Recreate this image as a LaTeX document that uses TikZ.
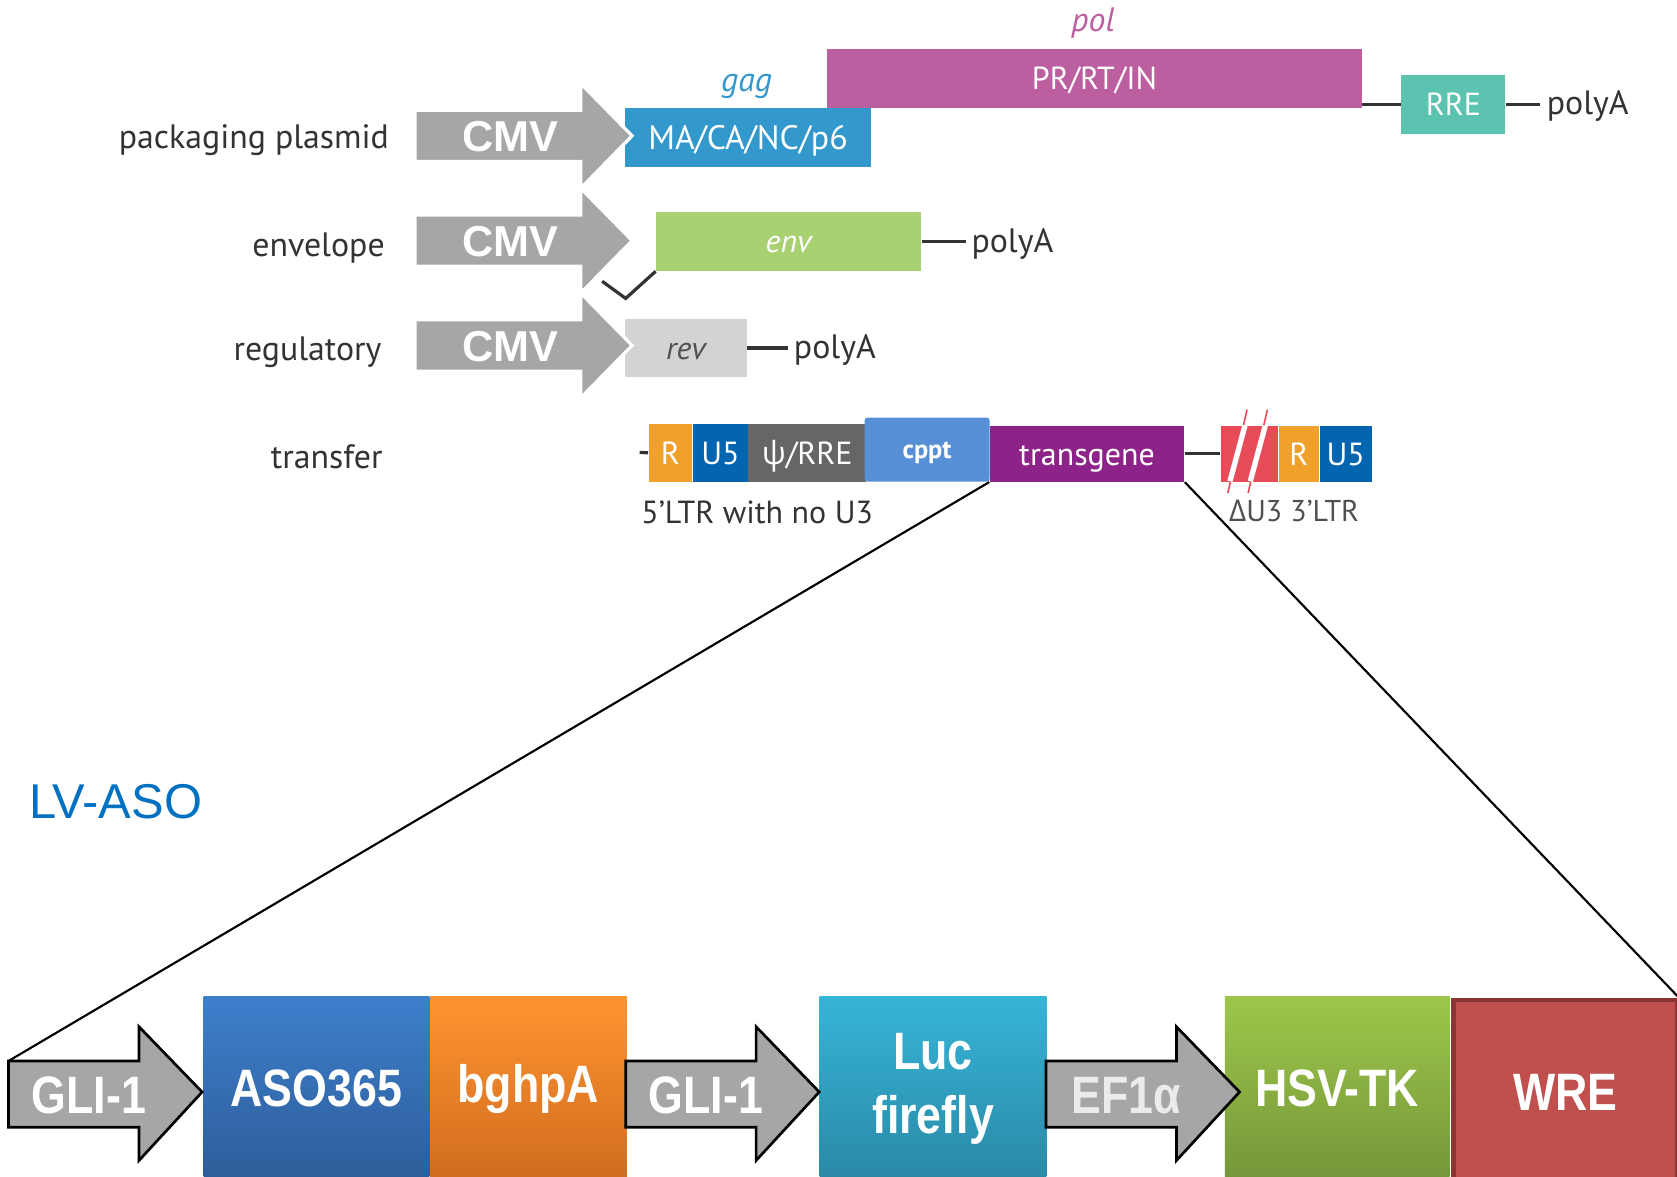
\documentclass[tikz,border=0pt]{standalone}
\usepackage{fontspec}
\setmainfont{PT Sans}
\newfontfamily\grkfont{Open Sans}
\newfontfamily\arialfont{Liberation Sans}
\newfontfamily\narrowfont[FakeStretch=0.85]{Liberation Sans}
\usetikzlibrary{positioning}

\newdimen\pxu \pxu=0.02cm

\definecolor{txtdark}{HTML}{333333}
\definecolor{cmvgray}{HTML}{A6A6A6}
\definecolor{gagblue}{HTML}{3398CB}
\definecolor{polpink}{HTML}{BB5FA0}
\definecolor{rreteal}{HTML}{5BC3AF}
\definecolor{envgreen}{HTML}{A8D172}
\definecolor{revgray}{HTML}{D1D3D4}
\definecolor{revtext}{HTML}{505050}
\definecolor{ltrorange}{HTML}{EFA12B}
\definecolor{ltrblue}{HTML}{0365B0}
\definecolor{psigray}{HTML}{666666}
\definecolor{cpptblue}{HTML}{578FD7}
\definecolor{tgpurple}{HTML}{8D2388}
\definecolor{u3red}{HTML}{E84B58}
\definecolor{lvblue}{HTML}{0070C0}
\definecolor{asotop}{HTML}{3E7FCC}
\definecolor{asobot}{HTML}{2D5D99}
\definecolor{bghtop}{HTML}{FF9430}
\definecolor{bghbot}{HTML}{D06C1E}
\definecolor{luctop}{HTML}{36B4D8}
\definecolor{lucbot}{HTML}{2A89A5}
\definecolor{hsvtop}{HTML}{9DC74A}
\definecolor{hsvbot}{HTML}{74963A}
\definecolor{wrefill}{HTML}{C0504D}
\definecolor{wreedge}{HTML}{8B3634}

\tikzset{
  rowlbl/.style={inner sep=0pt, anchor=mid east, text=txtdark,
    font=\fontsize{18}{21}\selectfont},
  gene/.style={inner sep=0pt, text=txtdark, font=\fontsize{18}{21}\selectfont},
  seg/.style={rectangle, inner sep=0pt, anchor=north west, text=white,
    text height=12pt, text depth=0pt, font=\fontsize{17}{20}\selectfont},
  link/.style={draw=txtdark, line width=3\pxu},
  zoomline/.style={draw=black, line width=2\pxu},
  cmvarrow/.style={fill=cmvgray, draw=white, line width=3\pxu},
  cmvtext/.style={inner sep=0pt, text=white,
    font=\arialfont\bfseries\fontsize{23}{26}\selectfont},
  bigbox/.style={rectangle, inner sep=0pt, anchor=north west, text=white,
    minimum height=173\pxu, align=center,
    font=\narrowfont\bfseries\fontsize{28}{31}\selectfont},
  proarrow/.style={fill=cmvgray, draw=black, line width=2.5\pxu, line join=miter},
  protext/.style={inner sep=0pt, text=white,
    font=\narrowfont\bfseries\fontsize{28}{31}\selectfont}
}

\begin{document}
\begin{tikzpicture}[x=0.02cm, y=-0.02cm]
\useasboundingbox (0,0) rectangle (1568,1100);

% row labels
\node[rowlbl] (lpack) at (364,134) {packaging plasmid};
\node[rowlbl] (lenv) at (360,235) {envelope};
\node[rowlbl] (lreg) at (357,333) {regulatory};
\node[rowlbl] (ltra) at (358,434) {transfer};

% packaging plasmid
\node[seg, fill=gagblue, minimum width=230\pxu, minimum height=55\pxu,
  font=\fontsize{18}{21}\selectfont] (mabox) at (584,101) {MA/CA/NC/p6};
\node[seg, fill=polpink, minimum width=500\pxu, minimum height=56\pxu] (polbox) at (773,45) {PR/RT/IN};
\node[seg, fill=rreteal, minimum width=97\pxu, minimum height=55\pxu] (rrebox) at (1310,70) {RRE};
\node[gene, text=gagblue] (gag) at (698,81) {\itshape gag};
\node[gene, text=polpink] (pol) at (1022,22) {\itshape pol};
\node[gene, anchor=mid west] (pa1) at (1446,103) {polyA};
\draw[link] (polbox.east |- rrebox.west) -- (rrebox.west);
\draw[link] (rrebox.east) -- ([xshift=-6\pxu]rrebox.east -| pa1.west);

% envelope
\node[seg, fill=envgreen, minimum width=248\pxu, minimum height=55\pxu] (envbox) at (613,198) {\itshape env};
\node[gene, anchor=mid west] (pa2) at (908,232) {polyA};
\draw[link] (envbox.east) -- ([xshift=-5\pxu]envbox.east -| pa2.west);
\coordinate (ck) at (585,279);
\coordinate (ckend) at (563,263);
\draw[link] (envbox.south west) -- (ck) -- (ckend);

% regulatory
\node[seg, fill=revgray, text=revtext, minimum width=114\pxu, minimum height=54\pxu] (revbox) at (584,298) {\itshape rev};
\node[gene, anchor=mid west] (pa3) at (742,331) {polyA};
\draw[link] (revbox.east) -- ([xshift=-5\pxu]revbox.east -| pa3.west);

% CMV promoters
\foreach \y/\n in {127/cmva, 225/cmvb, 323/cmvc}{
  \filldraw[cmvarrow] (388,\y-24) -- (543,\y-24) -- (543,\y-49) -- (591,\y)
    -- (543,\y+49) -- (543,\y+24) -- (388,\y+24) -- cycle;
  \node[cmvtext] (\n) at (477,\y+1) {CMV};
}

% transfer
\node[seg, fill=ltrorange, minimum width=41\pxu, minimum height=54\pxu] (rl) at (606,396) {R};
\node[seg, fill=ltrblue, minimum width=51\pxu, minimum height=54\pxu] (u5l) at (rl.north east) {U5};
\node[seg, fill=psigray, minimum width=110\pxu, minimum height=54\pxu] (psi) at (u5l.north east) {{\grkfont ψ}/RRE};
\node[seg, fill=cpptblue, minimum width=117\pxu, minimum height=60\pxu, rounded corners=3\pxu,
  text height=10pt, font=\bfseries\fontsize{14}{16}\selectfont] (cppt) at (808,390) {cppt};
\node[seg, fill=tgpurple, minimum width=182\pxu, minimum height=52\pxu] (tg) at (925,398) {transgene};
\node[seg, fill=u3red, minimum width=54\pxu, minimum height=52\pxu] (u3) at (1141,398) {};
\node[seg, fill=ltrorange, minimum width=37\pxu, minimum height=52\pxu] (rr) at (u3.north east) {R};
\node[seg, fill=ltrblue, minimum width=49\pxu, minimum height=52\pxu] (u5r) at (rr.north east) {U5};
\coordinate (tick) at (598,423);
\draw[link] (rl.west) -- (tick);
\draw[link] (tg.east) -- (u3.west);
% break marks
\foreach \dx in {0,19}{
  \draw[u3red, line width=1.5\pxu] (1148+\dx,461) -- (1166+\dx,383);
  \draw[white, line width=5\pxu] (1150+\dx,450) -- (1164+\dx,398);
}
\node[gene, font=\fontsize{17}{20}\selectfont] (ltr5) at (708,479) {5’LTR with no U3};
\node[gene, text=revtext, font=\fontsize{16}{19}\selectfont] (ltr3) at (1210,478) {{\grkfont Δ}U3 3’LTR};

% LV-ASO cassette
\node[inner sep=0pt, anchor=west, text=lvblue, font=\arialfont\fontsize{26}{30}\selectfont] (lvaso) at (27,750) {LV-ASO};

\node[bigbox, top color=asotop, bottom color=asobot, minimum width=211\pxu] (aso) at (190,931) {ASO365};
\node[bigbox, top color=bghtop, bottom color=bghbot, minimum width=184\pxu] (bgh) at (aso.north east) {bghpA};
\node[bigbox, top color=luctop, bottom color=lucbot, minimum width=212\pxu] (luc) at (766,931) {Luc\\[3pt]firefly};
\node[bigbox, top color=hsvtop, bottom color=hsvbot, minimum width=210\pxu] (hsv) at (1145,931) {HSV-TK};
\node[bigbox, fill=wrefill, draw=wreedge, line width=4\pxu, minimum width=209\pxu] (wre) at (1357,933) {WRE};

% promoters
\foreach \x/\n/\t in {8/gla/GLI-1, 585/glb/GLI-1, 978/efa/{\color{white!92!black}EF1α}}{
  \filldraw[proarrow] (\x,992) -- (\x+122,992) -- (\x+122,960) -- (\x+181,1021)
    -- (\x+122,1085) -- (\x+122,1054) -- (\x,1054) -- cycle;
  \node[protext] (\n) at (\x+75,1024) {\t};
}

% zoom lines
\coordinate (gtail) at (8,992);
\draw[zoomline] (tg.south west) -- (gtail);
\draw[zoomline] (tg.south east) -- (wre.north east);
\end{tikzpicture}
\end{document}
